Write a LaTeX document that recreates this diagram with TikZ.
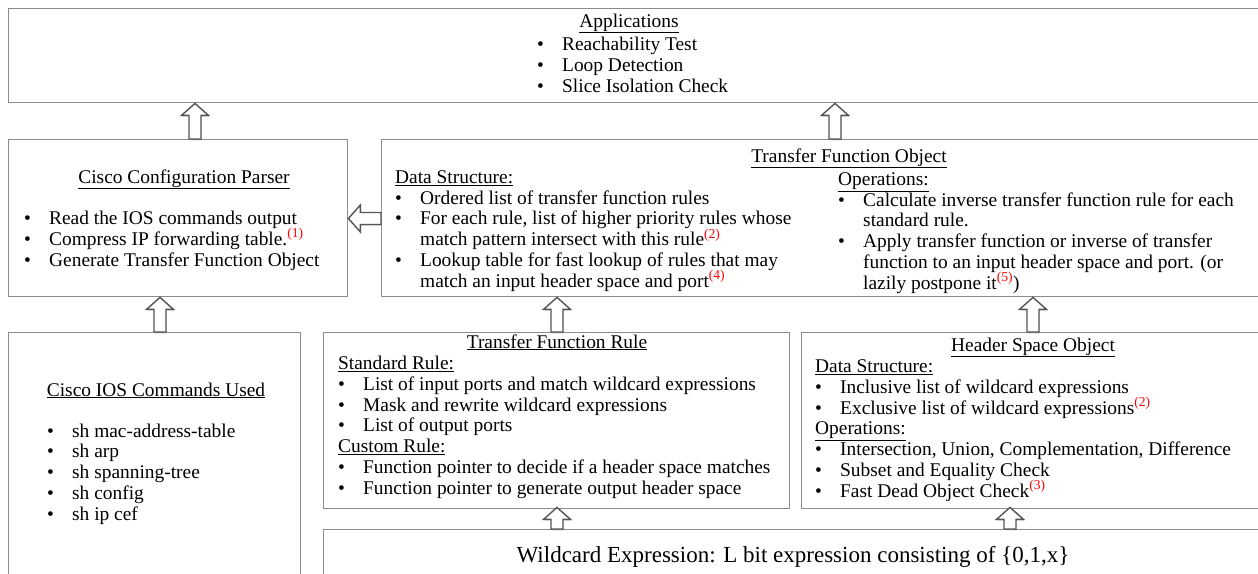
\documentclass[tikz,border=0pt]{standalone}
\usepackage{fontspec}
\setmainfont{Liberation Serif}
\usetikzlibrary{calc,shadows}
\definecolor{boxgray}{RGB}{140,140,140}
\definecolor{arrowgray}{RGB}{85,85,85}
\newcommand{\listfont}{\fontsize{19.4}{20.7}\selectfont\lineskiplimit=-50pt\relax}
\tikzset{box/.style = {draw=boxgray, line width=1.4pt, anchor=north west, inner sep=0pt},
         txt/.style = {anchor=base west, align=left, inner sep=0pt, font=\listfont},
         ttl/.style = {anchor=base, inner sep=0pt, font=\fontsize{19.4}{20.7}\selectfont},
         hollow/.style = {draw=arrowgray, fill=white, line width=1.4pt,
                          drop shadow={opacity=0.25, shadow xshift=0.8pt, shadow yshift=-1.5pt}}}
\newcommand{\bul}{\makebox[25pt][l]{\textbullet}}
\newcommand{\cont}{\hspace*{25pt}}
\newcommand{\note}[1]{\smash{\textsuperscript{\color{red}(#1)}}}
\newcommand{\fatarrow}[2]{% tail, tip
  \coordinate (hb) at ($(#2)!12pt!(#1)$);
  \draw[hollow] ($(#1)!6pt!90:(#2)$) -- ($(hb)!6pt!-90:(#1)$) -- ($(hb)!13.5pt!-90:(#1)$) -- (#2)
    -- ($(hb)!13.5pt!90:(#1)$) -- ($(hb)!6pt!90:(#1)$) -- ($(#1)!6pt!-90:(#2)$) -- cycle;}

\begin{document}
\begin{tikzpicture}[x=1pt, y=-1pt]
  \clip (0,0) rectangle (1258,573);
  % boxes
  \node[box, minimum width=1262, minimum height=94] (apps) at (8,8) {};
  \node[box, minimum width=339, minimum height=157] (parser) at (8,139) {};
  \node[box, minimum width=889, minimum height=157] (tfo) at (381,139) {};
  \node[box, minimum width=292, minimum height=268] (ios) at (8,332) {};
  \node[box, minimum width=466, minimum height=176] (tfr) at (323,332) {};
  \node[box, minimum width=469, minimum height=176] (hso) at (801,332) {};
  \node[box, minimum width=947, minimum height=71] (wild) at (323,529) {};

  % applications (lists sit on their last baseline)
  \node[ttl] (appstitle) at (629,27) {\underline{Applications}};
  \node[txt] (appslist) at (537,92) {\bul Reachability Test\\
    \bul Loop Detection\\
    \bul Slice Isolation Check};

  % parser
  \node[ttl] (parsertitle) at (184,183) {\underline{Cisco Configuration Parser}};
  \node[txt] (parserlist) at (24,266) {\bul Read the IOS commands output\\
    \bul Compress IP forwarding table.\note{1}\\
    \bul Generate Transfer Function Object};

  % transfer function object
  \node[ttl] (tfotitle) at (849,162) {\underline{Transfer Function Object}};
  \node[txt] (tfodata) at (395,287) {\underline{Data Structure:}\\
    \bul Ordered list of transfer function rules\\
    \bul For each rule, list of higher priority rules whose\\
    \cont match pattern intersect with this rule\note{2}\\
    \bul Lookup table for fast lookup of rules that may\\
    \cont match an input header space and port\note{4}};
  \node[txt] (tfoops) at (838,289) {\underline{Operations:}\\
    \bul Calculate inverse transfer function rule for each\\
    \cont standard rule.\\
    \bul Apply transfer function or inverse of transfer\\
    \cont function to an input header space and port. (or\\
    \cont lazily postpone it\note{5})};

  % ios commands
  \node[ttl] (iostitle) at (156,396) {\underline{Cisco IOS Commands Used}};
  \node[txt] (ioslist) at (47,520) {\bul sh mac-address-table\\
    \bul sh arp\\
    \bul sh spanning-tree\\
    \bul sh config\\
    \bul sh ip cef};

  % transfer function rule
  \node[ttl] (tfrtitle) at (557,348) {\underline{Transfer Function Rule}};
  \node[txt] (tfrlist) at (338,494) {\underline{Standard Rule:}\\
    \bul List of input ports and match wildcard expressions\\
    \bul Mask and rewrite wildcard expressions\\
    \bul List of output ports\\
    \underline{Custom Rule:}\\
    \bul Function pointer to decide if a header space matches\\
    \bul Function pointer to generate output header space};

  % header space object
  \node[ttl] (hsotitle) at (1033,351) {\underline{Header Space Object}};
  \node[txt] (hsolist) at (815,497) {\underline{Data Structure:}\\
    \bul Inclusive list of wildcard expressions\\
    \bul Exclusive list of wildcard expressions\note{2}\\
    \underline{Operations:}\\
    \bul Intersection, Union, Complementation, Difference\\
    \bul Subset and Equality Check\\
    \bul Fast Dead Object Check\note{3}};

  % wildcard
  \node[ttl, font=\fontsize{23}{27}\selectfont] (wildtext) at (793,562) {Wildcard Expression: L bit expression consisting of \{0,1,x\}};

  % arrows
  \coordinate (a1) at ($(parser.north west)+(187,0)$);
  \coordinate (b1) at (a1 |- apps.south);
  \fatarrow{a1}{b1}
  \coordinate (a2) at ($(tfo.north west)+(454,0)$);
  \coordinate (b2) at (a2 |- apps.south);
  \fatarrow{a2}{b2}
  \coordinate (a3) at ($(tfo.north west)+(0,79.5)$);
  \coordinate (b3) at (a3 -| parser.east);
  \fatarrow{a3}{b3}
  \coordinate (a4) at ($(ios.north west)+(152,0)$);
  \coordinate (b4) at (a4 |- parser.south);
  \fatarrow{a4}{b4}
  \coordinate (a5) at ($(tfr.north west)+(234,0)$);
  \coordinate (b5) at (a5 |- tfo.south);
  \fatarrow{a5}{b5}
  \coordinate (a6) at ($(hso.north west)+(232,0)$);
  \coordinate (b6) at (a6 |- tfo.south);
  \fatarrow{a6}{b6}
  \coordinate (a7) at ($(wild.north west)+(234,0)$);
  \coordinate (b7) at ($(a7 |- tfr.south)+(0,-2)$);
  \fatarrow{a7}{b7}
  \coordinate (a8) at ($(wild.north west)+(687,0)$);
  \coordinate (b8) at ($(a8 |- hso.south)+(0,-2)$);
  \fatarrow{a8}{b8}
\end{tikzpicture}
\end{document}
